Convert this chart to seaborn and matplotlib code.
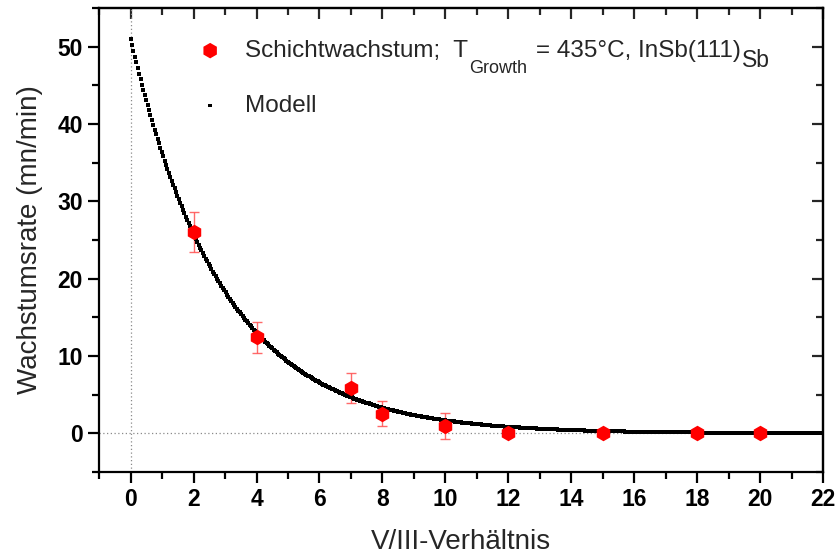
import numpy as np
import pandas as pd
import matplotlib
matplotlib.use("Agg")
import matplotlib.pyplot as plt
import seaborn as sns
from matplotlib.ticker import MultipleLocator

# Measured growth rates vs. V/III ratio
ratio = [2, 4, 7, 8, 10, 12, 15, 18, 20]
rate = [26.0, 12.4, 5.85, 2.55, 0.95, 0.0, 0.0, 0.0, 0.0]
rate_err = [2.6, 2.05, 1.9, 1.6, 1.7, 0.0, 0.0, 0.0, 0.0]

# Exponential decay model: rate = amplitude * exp(-ratio / decay)
model_amplitude = 51.0
model_decay = 2.93
model_x_start, model_x_end, model_step = 0.0, 22.0, 0.045

x_ticks = [0, 2, 4, 6, 8, 10, 12, 14, 16, 18, 20, 22]
y_ticks = [0, 10, 20, 30, 40, 50]

# legend entry for the data, written in pieces (Origin-style lowered subscripts)
data_label = "Schichtwachstum;  T"
data_label_sub1 = "Growth"
data_label_mid = "= 435°C, InSb(111)"
data_label_sub2 = "Sb"
model_label = "Modell"

sns.set_theme(style="ticks")
plt.rcParams["font.family"] = ["Liberation Sans", "DejaVu Sans"]

df = pd.DataFrame({"ratio": ratio, "rate": rate, "err": rate_err})
mx = np.arange(model_x_start, model_x_end + model_step / 2, model_step)
model = pd.DataFrame({"ratio": mx,
                      "rate": model_amplitude * np.exp(-mx / model_decay)})

W, H = 840, 555
fig = plt.figure(figsize=(W / 100, H / 100), dpi=100)
ax = fig.add_axes([0.118, 0.1495, 0.862, 0.836])

# zero reference lines
ax.axhline(0, color="#8a8a8a", lw=0.9, ls=(0, (1, 2)), zorder=1)
ax.axvline(0, color="#8a8a8a", lw=0.9, ls=(0, (1, 2)), zorder=1)

# error bars
mask = df["err"] > 0
ax.errorbar(df.loc[mask, "ratio"], df.loc[mask, "rate"], yerr=df.loc[mask, "err"],
            fmt="none", ecolor="#ff5050", elinewidth=1.0, capsize=3.6,
            capthick=1.0, alpha=0.85, zorder=2)

sns.scatterplot(data=model, x="ratio", y="rate", ax=ax, marker="s", s=7,
                color="black", linewidth=0, label=model_label, zorder=3)
sns.scatterplot(data=df, x="ratio", y="rate", ax=ax, marker="h", s=125,
                color="#ff0000", linewidth=0, label=data_label, zorder=4)

ax.set_xlim(-1, 22)
ax.set_ylim(-5, 55)
ax.xaxis.set_major_locator(MultipleLocator(2))
ax.xaxis.set_minor_locator(MultipleLocator(1))
ax.yaxis.set_major_locator(MultipleLocator(10))
ax.yaxis.set_minor_locator(MultipleLocator(5))
ax.set_xticks(x_ticks)
ax.set_yticks(y_ticks)

for side in ["left", "right", "top", "bottom"]:
    ax.spines[side].set_visible(True)
    ax.spines[side].set_linewidth(1.6)
    ax.spines[side].set_color("black")

ax.tick_params(which="both", direction="out", width=1.6, color="black",
               top=False, right=False, labelsize=16.5, labelcolor="black")
ax.tick_params(which="major", length=7.8, pad=4)
ax.tick_params(which="minor", length=4.8)
for lbl in ax.get_xticklabels() + ax.get_yticklabels():
    lbl.set_fontweight("bold")

# inward ticks on the top and right frame
secx = ax.secondary_xaxis("top")
secx.xaxis.set_major_locator(MultipleLocator(2))
secx.xaxis.set_minor_locator(MultipleLocator(1))
secx.tick_params(which="both", direction="in", width=1.6, labeltop=False)
secx.tick_params(which="major", length=7.8)
secx.tick_params(which="minor", length=4.8)
secx.spines["top"].set_linewidth(1.6)
secy = ax.secondary_yaxis("right")
secy.yaxis.set_major_locator(MultipleLocator(10))
secy.yaxis.set_minor_locator(MultipleLocator(5))
secy.tick_params(which="both", direction="in", width=1.6, labelright=False)
secy.tick_params(which="major", length=7.8)
secy.tick_params(which="minor", length=4.8)
secy.spines["right"].set_linewidth(1.6)

ax.set_xlabel("V/III-Verhältnis", fontsize=20, labelpad=13)
ax.set_ylabel("Wachstumsrate (mn/min)", fontsize=20, labelpad=10)

legend_size = 17.5
handles, labels = ax.get_legend_handles_labels()
order = [labels.index(data_label), labels.index(model_label)]
leg = ax.legend([handles[i] for i in order], [labels[i] for i in order],
                loc="upper left", bbox_to_anchor=(198 / W, 1 - 40 / H),
                bbox_transform=fig.transFigure, frameon=False,
                fontsize=legend_size, handlelength=1.0, handletextpad=0.95,
                labelspacing=1.35, borderpad=0, borderaxespad=0)
for h in leg.legend_handles:
    h.set_edgecolor("none")

# continue the first legend label with lowered subscripts
fig.canvas.draw()
renderer = fig.canvas.get_renderer()
first = leg.get_texts()[0]
bb = first.get_window_extent(renderer)
_, _, lp_descent = renderer.get_text_width_height_descent(
    "lp", first.get_fontproperties(), ismath=False)
baseline = bb.y0 + lp_descent


def piece(x_px, y_px, text, size):
    t = fig.text(x_px / W, y_px / H, text, fontsize=size, ha="left",
                 va="baseline", color=first.get_color())
    return t.get_window_extent(renderer)


b1 = piece(bb.x1 + 1, baseline - 16, data_label_sub1, 13)
b2 = piece(b1.x1 + 9, baseline, data_label_mid, legend_size)
piece(b2.x1 + 1, baseline - 10, data_label_sub2, 16.5)

fig.savefig("out.png", dpi=100)
